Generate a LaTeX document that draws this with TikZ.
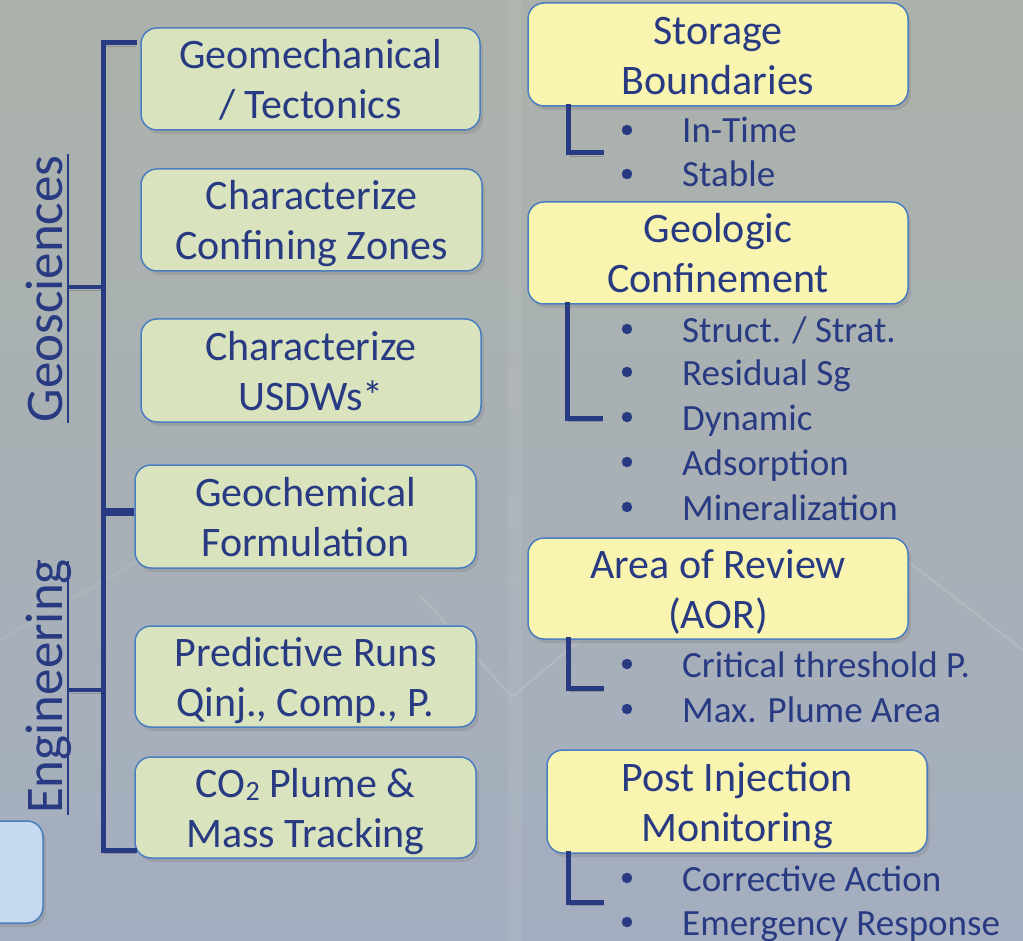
\documentclass[tikz,border=0pt]{standalone}
\usepackage{fontspec}
\setmainfont{Carlito}
\usetikzlibrary{shadows}
\definecolor{navy}{RGB}{40,58,130}
\definecolor{bordb}{RGB}{74,126,192}
\definecolor{gfill}{RGB}{217,228,191}
\definecolor{yfill}{RGB}{249,245,176}
\definecolor{bfill}{RGB}{198,217,241}
\definecolor{bgtop}{RGB}{172,178,170}
\definecolor{bgbot}{RGB}{164,174,192}
\newcommand{\twoline}[2]{\raisebox{-5pt}[\height][\depth]{\begin{tabular}{@{}c@{}}#1\\#2\end{tabular}}}
\begin{document}
\begin{tikzpicture}[x=1pt,y=-1pt,
  box/.style={draw=bordb, line width=1.5pt, rounded corners=16pt, text=navy,
    align=center, font=\fontsize{42}{50}\selectfont, inner sep=0pt,
    drop shadow={shadow xshift=3pt, shadow yshift=-4pt, opacity=.3}},
  gbox/.style={box, fill=gfill},
  ybox/.style={box, fill=yfill},
  bbox/.style={box, fill=bfill},
  lshadow/.style={preaction={draw=black, opacity=.18, transform canvas={shift={(2pt,-3pt)}}}},
  brk/.style={draw=navy, line width=5pt, line cap=rect, line join=miter, lshadow},
  tick/.style={draw=navy, line width=4pt, lshadow},
  item/.style={anchor=base west, inner sep=0pt, text=navy, font=\fontsize{37}{37}\selectfont},
  dot/.style={circle, fill=navy, inner sep=0pt, minimum size=10.5pt},
  lbl/.style={rotate=90, anchor=base, inner sep=0pt, text=navy, font=\fontsize{53}{53}\selectfont},
  uline/.style={draw=navy, line width=2.5pt}
]
\useasboundingbox (0,0) rectangle (1023,941);
\clip (0,0) rectangle (1023,941);
% background
\shade[top color=bgtop, bottom color=bgbot] (0,0) rectangle (1023,941);
\fill[white, opacity=.06] (508,0) rectangle (522,941);
\draw[white, opacity=.13, line width=2pt] (420,595) -- (512,697) -- (640,590);
\draw[white, opacity=.13, line width=2pt] (880,540) -- (1023,650);
\draw[white, opacity=.08, line width=2pt] (0,640) -- (140,560);

% left boxes
\node[gbox, minimum width=339pt, minimum height=102pt] (g1) at (310.5,79) {\twoline{Geomechanical}{/ Tectonics}};
\node[gbox, minimum width=341pt, minimum height=102pt] (g2) at (311.5,220) {\twoline{Characterize}{Confining Zones}};
\node[gbox, minimum width=340pt, minimum height=103pt] (g3) at (311,370.5) {\twoline{Characterize}{USDWs*}};
\node[gbox, minimum width=341pt, minimum height=103pt] (g4) at (305.5,516.5) {\twoline{Geochemical}{Formulation}};
\node[gbox, minimum width=341pt, minimum height=101pt] (g5) at (305.5,676.5) {\twoline{Predictive Runs}{Qinj., Comp., P.}};
\node[gbox, minimum width=341pt, minimum height=101pt] (g6) at (305.5,807.5) {\twoline{CO{\fontsize{28}{28}\selectfont\raisebox{-3pt}{2}} Plume \&}{Mass Tracking}};
\node[bbox, minimum width=80pt, minimum height=102pt] (lb) at (3,872) {};

% right boxes
\node[ybox, minimum width=380pt, minimum height=103pt] (y1) at (718,54.5) {\twoline{Storage}{Boundaries}};
\node[ybox, minimum width=380pt, minimum height=102pt] (y2) at (718,253) {\twoline{Geologic}{Confinement}};
\node[ybox, minimum width=380pt, minimum height=101pt] (y3) at (718,588.5) {\twoline{Area of Review}{(AOR)}};
\node[ybox, minimum width=380pt, minimum height=103pt] (y4) at (737,801.5) {\twoline{Post Injection}{Monitoring}};

% vertical labels
\node[lbl] (geo) at (62,289) {Geosciences};
\node[lbl] (eng) at (62,686.5) {Engineering};
\draw[uline] (68,154) -- (68,423);
\draw[uline] (68,561) -- (68,815);

% left bracket
\coordinate (ktop) at (103,43);
\coordinate (kbot) at (103,850);
\draw[brk] ([xshift=-6pt]g1.west |- ktop) -- (ktop) -- (kbot) -- (g6.west |- kbot);
\draw[tick] (68,287) -- (103,287);
\draw[tick] (68,690) -- (103,690);
\draw[draw=navy, line width=8pt, lshadow] (103,512) -- (g4.west |- 0,512);

% right brackets
\draw[brk] (y1.south -| 568,0) -- (568,153) -- (601,153);
\draw[brk] (y2.south -| 567,0) -- (567,418) -- (600,418);
\draw[brk] (y3.south -| 568,0) -- (568,688) -- (601,688);
\draw[brk] (y4.south -| 568,0) -- (568,902) -- (601,902);

% bullet lists
\node[dot] (d11) at (627,130) {}; \node[item] (i11) at (682,143) {In-Time};
\node[dot] (d12) at (627,174) {}; \node[item] (i12) at (682,187) {Stable};
\node[dot] (d21) at (627,329) {}; \node[item] (i21) at (682,342) {Struct. / Strat.};
\node[dot] (d22) at (627,372) {}; \node[item] (i22) at (682,385) {Residual Sg};
\node[dot] (d23) at (627,417) {}; \node[item] (i23) at (682,430) {Dynamic};
\node[dot] (d24) at (627,462) {}; \node[item] (i24) at (682,475) {Adsorption};
\node[dot] (d25) at (627,507) {}; \node[item] (i25) at (682,520) {Mineralization};
\node[dot] (d31) at (627,664) {}; \node[item] (i31) at (682,677) {Critical threshold P.};
\node[dot] (d32) at (627,709) {}; \node[item] (i32) at (682,722) {Max. Plume Area};
\node[dot] (d41) at (627,878) {}; \node[item] (i41) at (682,891) {Corrective Action};
\node[dot] (d42) at (627,922) {}; \node[item] (i42) at (682,935) {Emergency Response};
\end{tikzpicture}
\end{document}
